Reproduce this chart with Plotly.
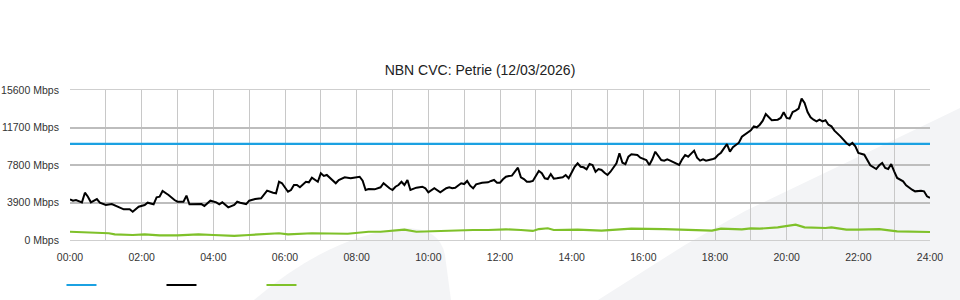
import plotly.graph_objects as go

# ---- data ----
capacity_mbps = 10000
day_start, day_end = "00:00", "24:00"

down_times = ["00:00","00:05","00:10","00:20","00:25","00:30","00:35","00:45","00:50","01:00","01:10","01:20","01:30","01:40","01:45","01:55",
"02:05","02:10","02:20","02:25","02:30","02:35","02:45","02:55","03:00","03:10","03:15","03:20","03:30","03:40","03:45","03:55",
"04:05","04:10","04:15","04:25","04:35","04:40","04:45","04:55","05:00","05:10","05:20","05:30","05:40","05:45","05:50","05:55",
"06:05","06:10","06:15","06:20","06:25","06:30","06:35","06:40","06:45","06:55","07:00","07:05","07:10","07:25","07:30","07:40",
"07:50","07:55","08:05","08:10","08:15","08:20","08:30","08:40","08:45","08:55","09:00","09:05","09:10","09:15","09:20","09:25",
"09:30","09:40","09:50","09:55","10:00","10:10","10:15","10:20","10:30","10:35","10:40","10:45","10:55","11:00","11:05","11:10",
"11:15","11:20","11:30","11:40","11:45","11:50","11:55","12:00","12:05","12:10","12:15","12:20","12:30","12:35","12:40","12:45",
"12:50","12:55","13:05","13:10","13:15","13:20","13:25","13:30","13:35","13:45","13:50","13:55","14:05","14:10","14:15","14:20",
"14:25","14:30","14:35","14:40","14:45","14:50","14:55","15:00","15:05","15:15","15:20","15:25","15:30","15:35","15:40","15:50",
"15:55","16:05","16:10","16:15","16:20","16:30","16:35","16:40","16:45","16:55","17:00","17:05","17:10","17:15","17:25","17:30",
"17:35","17:40","17:45","17:55","18:00","18:05","18:10","18:20","18:25","18:30","18:35","18:40","18:45","18:55","19:00","19:05",
"19:10","19:15","19:20","19:25","19:30","19:35","19:45","19:50","19:55","20:00","20:05","20:10","20:15","20:20","20:25","20:30",
"20:35","20:40","20:45","20:50","20:55","21:00","21:05","21:10","21:15","21:20","21:30","21:35","21:40","21:45","21:50","21:55",
"22:00","22:10","22:15","22:20","22:30","22:35","22:40","22:45","22:50","22:55","23:00","23:05","23:15","23:20","23:30","23:35",
"23:45","23:50","23:55","24:00"]
down_mbps = [4230,4090,4160,3920,4920,4500,3920,4260,3880,3640,3740,3460,3190,3190,2940,3460,
3640,3880,3710,4440,4500,5100,4680,4160,3980,3980,4610,3710,3710,3740,3540,4090,
3920,3710,3920,3400,3640,3980,3880,3740,4090,4260,4340,5130,4920,4860,6060,5900,
5020,5200,5720,5720,5480,5820,6060,6000,6480,6060,6940,6660,6760,5900,6240,6520,
6420,6480,6580,6170,5200,5300,5270,5480,5900,5380,5200,5540,5720,6060,5720,6240,
5200,5440,5540,5380,4960,5380,5130,4960,5380,5480,5380,5440,5900,5820,6140,5650,
5380,5790,5960,6000,6140,6240,5960,5960,6310,6580,6660,6690,7520,6520,6340,6060,
6060,6140,7180,6940,6420,6340,6860,6380,6420,6520,6760,6420,7620,7980,7620,7560,
7350,7900,7800,7100,7380,7280,7000,6760,7100,7980,9020,8040,7900,8660,8910,8840,
8560,8320,7800,8390,9180,8320,8250,8390,8250,7980,7800,8390,8840,8660,9290,8560,
8250,8390,8250,8390,8500,8840,9080,9980,9180,9640,9880,10120,10740,11160,11410,11820,
11720,11990,12410,13100,12760,12450,12510,12690,13280,12690,12620,13310,13450,13660,14700,14250,
13310,12760,12510,12340,12510,12340,12450,11990,11820,11370,10780,10430,10090,9850,10090,9740,
9050,8870,8350,7770,7380,7770,8010,7490,7380,7900,7140,6450,6100,5690,5230,5060,
5130,5060,4540,4370]

up_times = ["00:00","00:25","00:40","01:05","01:15","01:45","02:05","02:30","03:00","03:35","04:00","04:35","05:00","05:25","05:50","06:05",
"06:45","07:45","08:20","08:40","09:05","09:20","09:40","10:15","10:45","11:15","11:40","12:10","12:35","12:55","13:05","13:20",
"13:30","14:10","14:50","15:40","16:35","17:20","17:55","18:10","18:45","19:00","19:15","19:45","20:15","20:30","21:05","21:15",
"21:40","22:00","22:35","23:05","24:00"]
up_mbps = [860,800,700,700,590,520,590,490,490,590,520,420,520,620,700,590,
700,650,860,860,1000,1080,860,940,1040,1040,1040,1110,1040,940,1140,1220,
1040,1080,970,1180,1140,1040,970,1180,1110,1200,1180,1320,1590,1320,1250,1320,
1070,1070,1140,900,830]

y_ticks = [0, 3900, 7800, 11700, 15600]
y_tick_text = [f"{v} Mbps" for v in y_ticks]
x_hours = list(range(0, 25))
x_tick_text = [f"{h:02d}:00" if h % 2 == 0 else "" for h in x_hours]

title_text = "NBN CVC: Petrie (12/03/2026)"

BLUE = "#1ba1e2"
BLACK = "#000000"
GREEN = "#7fc12a"


def to_min(t):
    h, m = t.split(":")
    return int(h) * 60 + int(m)


fig = go.Figure()
fig.add_trace(go.Scatter(x=[to_min(day_start), to_min(day_end)], y=[capacity_mbps, capacity_mbps],
                         mode="lines", line=dict(color=BLUE, width=2.2), name=" ", hoverinfo="skip"))
fig.add_trace(go.Scatter(x=[to_min(t) for t in down_times], y=down_mbps, mode="lines",
                         line=dict(color=BLACK, width=2), name=" "))
fig.add_trace(go.Scatter(x=[to_min(t) for t in up_times], y=up_mbps, mode="lines",
                         line=dict(color=GREEN, width=2.2), name=" "))
# invisible helper on a second y-axis to draw the inner horizontal gridlines
fig.add_trace(go.Scatter(x=[0], y=[0], yaxis="y2", mode="markers", marker=dict(opacity=0),
                         showlegend=False, hoverinfo="skip"))

# decorative background swooshes (paper coordinates)
SW = "#f3f4f6"
fig.add_shape(type="path", xref="paper", yref="paper", layer="below", line=dict(width=0), fillcolor=SW,
              path="M 0.614,-0.4 L 0.715,-0.033 L 0.785,0.193 L 1.006,0.8 L 1.035,0.88 L 1.035,-0.4 Z")
fig.add_shape(type="path", xref="paper", yref="paper", layer="below", line=dict(width=0), fillcolor=SW,
              path="M 0.214,-0.4 Q 0.302,0.033 0.3895,0.08 Q 0.430,0.08 0.436,-0.1 L 0.443,-0.4 Z")

FONT = "Liberation Sans, Arial, sans-serif"
fig.update_layout(
    width=960, height=300,
    margin=dict(l=70, r=30, t=90, b=60, autoexpand=False),
    paper_bgcolor="white", plot_bgcolor="rgba(0,0,0,0)",
    font=dict(family=FONT, size=11, color="#333333"),
    title=dict(text=title_text, x=0.5, xref="container", xanchor="center",
               y=1 - 70 / 300, yref="container", yanchor="middle",
               font=dict(family=FONT, size=14, color="#222222")),
    xaxis=dict(range=[0, 1440], tickvals=[h * 60 for h in x_hours], ticktext=x_tick_text,
               showgrid=True, gridcolor="#c8c8c8", gridwidth=1, zeroline=False,
               showline=True, linecolor="#cfcfcf", linewidth=1, mirror=True, automargin=False,
               ticks="outside", ticklen=7, tickcolor="rgba(0,0,0,0)", tickfont=dict(size=10.5)),
    yaxis=dict(range=[0, 15600], tickvals=y_ticks, ticktext=y_tick_text, showgrid=False,
               zeroline=False, ticks="outside", ticklen=8, tickcolor="rgba(0,0,0,0)", automargin=False,
               tickfont=dict(size=10.5)),
    yaxis2=dict(range=[0, 15600], overlaying="y", tickvals=y_ticks[1:-1], showticklabels=False,
                showgrid=True, gridcolor="#bdbdbd", gridwidth=2, zeroline=False, side="left",
                automargin=False),
    showlegend=True,
    legend=dict(orientation="h", x=-0.0099, xanchor="left", y=1 - 285 / 300, yref="container",
                yanchor="middle", entrywidth=55, entrywidthmode="pixels", bgcolor="rgba(0,0,0,0)",
                font=dict(size=11)),
)

fig.write_html("out.html")
